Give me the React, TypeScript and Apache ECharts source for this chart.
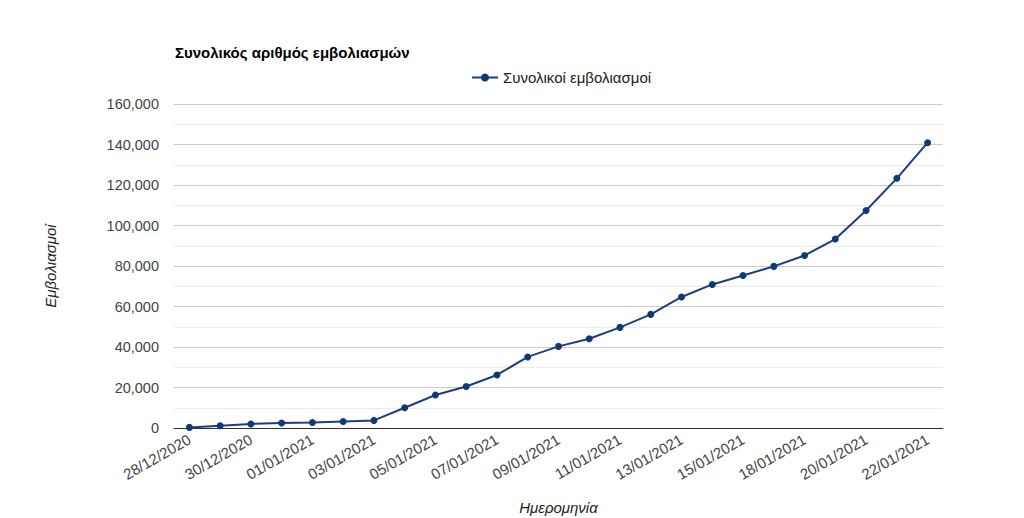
import React, { useEffect, useRef } from "react";
import * as echarts from "echarts";

const dates = [
  "28/12/2020", "29/12/2020", "30/12/2020", "31/12/2020", "01/01/2021",
  "02/01/2021", "03/01/2021", "04/01/2021", "05/01/2021", "06/01/2021",
  "07/01/2021", "08/01/2021", "09/01/2021", "10/01/2021", "11/01/2021",
  "12/01/2021", "13/01/2021", "14/01/2021", "15/01/2021", "16/01/2021",
  "18/01/2021", "19/01/2021", "20/01/2021", "21/01/2021", "22/01/2021",
];

const vaccinations = [
  300, 1100, 2000, 2500, 2750,
  3250, 3750, 10000, 16300, 20500,
  26200, 35100, 40300, 44100, 49700,
  56100, 64700, 70900, 75350, 79800,
  85200, 93300, 107400, 123300, 140900,
];

const yTicks = { min: 0, max: 160000, interval: 20000 };

const FONT = "Arial, 'Liberation Sans', sans-serif";

export default function App() {
  const ref = useRef<HTMLDivElement>(null);
  useEffect(() => {
    if (!ref.current) return;
    const chart = echarts.init(ref.current, null, { renderer: "svg" });
    chart.setOption({
      animation: false,
      backgroundColor: "#ffffff",
      textStyle: { fontFamily: FONT },
      title: {
        text: "Συνολικός αριθμός εμβολιασμών",
        left: 170,
        top: 40,
        textStyle: { fontSize: 15, fontWeight: "bold", color: "#000000", fontFamily: FONT },
      },
      legend: {
        left: 466,
        top: 65,
        itemWidth: 26,
        itemHeight: 10,
        itemGap: 6,
        textStyle: { fontSize: 15, color: "#222222", fontFamily: FONT },
        data: ["Συνολικοί εμβολιασμοί"],
      },
      grid: { left: 174, right: 81, top: 104, bottom: 90, outerBoundsMode: "none", containLabel: false },
      xAxis: {
        type: "category",
        data: dates,
        boundaryGap: true,
        name: "Ημερομηνία",
        nameLocation: "middle",
        nameGap: 72,
        nameTextStyle: { fontSize: 15, fontStyle: "italic", color: "#222222", fontFamily: FONT },
        axisLine: { show: true, lineStyle: { color: "#333333", width: 1 } },
        axisTick: { show: false },
        axisLabel: {
          interval: 1,
          rotate: 30,
          fontSize: 15,
          color: "#444444",
          margin: 10,
          fontFamily: FONT,
        },
        splitLine: { show: false },
      },
      yAxis: {
        type: "value",
        min: yTicks.min,
        max: yTicks.max,
        interval: yTicks.interval,
        name: "Εμβολιασμοί",
        nameLocation: "middle",
        nameGap: 116,
        nameTextStyle: { fontSize: 15, fontStyle: "italic", color: "#222222", fontFamily: FONT },
        axisLine: { show: false },
        axisTick: { show: false },
        axisLabel: { fontSize: 14.5, color: "#444444", margin: 15, fontFamily: FONT },
        splitLine: { show: true, lineStyle: { color: "#cccccc", width: 1 } },
        minorTick: { show: false, splitNumber: 2 },
        minorSplitLine: { show: true, lineStyle: { color: "#ebebeb", width: 1 } },
      },
      series: [
        {
          name: "Συνολικοί εμβολιασμοί",
          type: "line",
          data: vaccinations,
          symbol: "circle",
          symbolSize: 7,
          showSymbol: true,
          lineStyle: { color: "#1c3f7e", width: 2 },
          itemStyle: { color: "#0e3a78" },
        },
      ],
    });
    return () => chart.dispose();
  }, []);
  return (
    <div
      ref={ref}
      style={{ position: "absolute", left: 0, top: 0, width: 1024, height: 518 }}
    />
  );
}
